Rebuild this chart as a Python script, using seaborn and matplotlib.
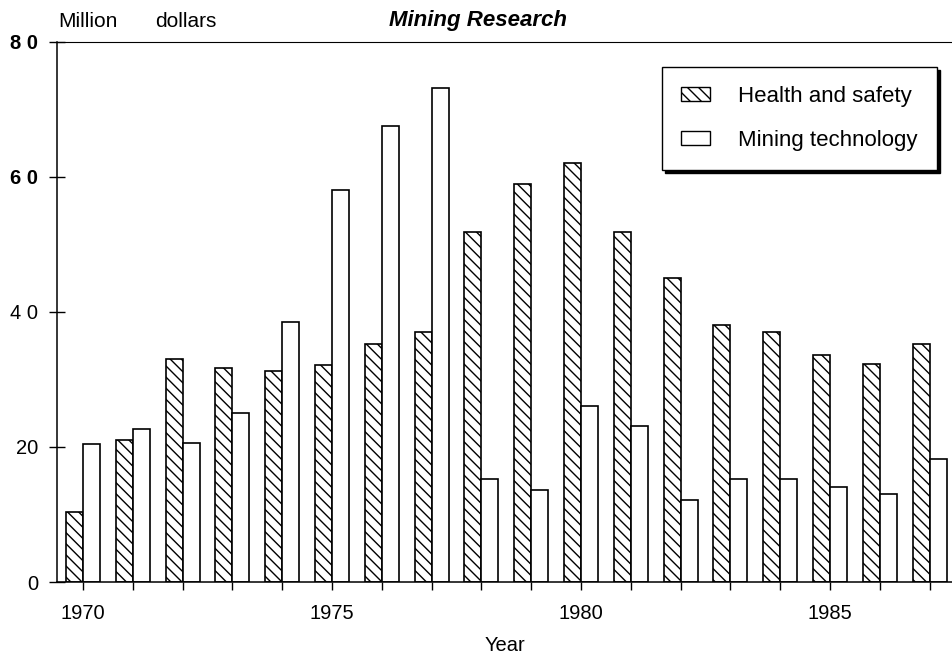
import matplotlib
matplotlib.use("Agg")
import matplotlib.pyplot as plt
from matplotlib.patches import Patch
import pandas as pd
import seaborn as sns

# Mining research funding, million dollars
years = [1970, 1971, 1972, 1973, 1974, 1975, 1976, 1977, 1978,
         1979, 1980, 1981, 1982, 1983, 1984, 1985, 1986, 1987]
health_safety = [10.4, 21.1, 33.1, 31.7, 31.2, 32.2, 35.3, 37.1, 51.9,
                 58.9, 62.0, 51.9, 45.0, 38.0, 37.1, 33.7, 32.3, 35.2]
mining_tech = [20.5, 22.6, 20.6, 25.1, 38.5, 58.0, 67.6, 73.2, 15.2,
               13.6, 26.0, 23.1, 12.1, 15.2, 15.2, 14.1, 13.1, 18.2]
series_names = ["Health and safety", "Mining technology"]

ytick_values = [0, 20, 40, 60, 80]
ytick_labels = ["0", "20", "4 0", "6 0", "8 0"]
bold_yticks = ["6 0", "8 0"]
labelled_years = [1970, 1975, 1980, 1985]

df = pd.DataFrame({
    "Year": years + years,
    "Value": health_safety + mining_tech,
    "Series": [series_names[0]] * len(years) + [series_names[1]] * len(years),
})

sns.set_style("ticks")
plt.rcParams["font.family"] = ["Liberation Sans", "DejaVu Sans"]
plt.rcParams["text.color"] = "black"
plt.rcParams["axes.labelcolor"] = "black"
plt.rcParams["hatch.linewidth"] = 1.0
plt.rcParams["hatch.color"] = "black"

HATCH = "\\\\\\"

fig = plt.figure(figsize=(9.52, 6.56), dpi=100)
ax = fig.add_axes([0.06, 0.1128, 0.94, 0.8232])

sns.barplot(
    data=df, x="Year", y="Value", hue="Series", hue_order=series_names,
    palette=["white", "white"], native_scale=True, width=0.68, gap=0,
    edgecolor="black", linewidth=1.2, errorbar=None, legend=False, ax=ax,
)
for bar in ax.containers[0]:
    bar.set_hatch(HATCH)

ax.set_xlim(1969.48, 1987.45)
ax.set_ylim(0, 80)

ax.set_xticks(years)
ax.set_xticklabels([str(y) if y in labelled_years else "" for y in years])
ax.set_yticks(ytick_values)
ax.set_yticklabels(ytick_labels)
for lab in ax.get_yticklabels():
    if lab.get_text() in bold_yticks:
        lab.set_fontweight("bold")

ax.tick_params(axis="x", direction="out", length=6, width=1, pad=10,
               labelsize=14.5, colors="black")
ax.tick_params(axis="y", direction="inout", length=11, width=1, pad=8,
               labelsize=14.5, colors="black")

for side in ["left", "bottom", "top"]:
    ax.spines[side].set_color("black")
    ax.spines[side].set_linewidth(1.1)
ax.spines["top"].set_linewidth(0.8)
ax.spines["right"].set_visible(False)

ax.set_xlabel("Year", fontsize=14.5, labelpad=9)
ax.set_ylabel("")

handles = [
    Patch(facecolor="white", edgecolor="black", hatch=HATCH, linewidth=1),
    Patch(facecolor="white", edgecolor="black", linewidth=1),
]
leg = ax.legend(
    handles, series_names, loc="upper right", bbox_to_anchor=(0.983, 0.954),
    frameon=True, fancybox=False, edgecolor="black", framealpha=1,
    shadow={"color": "black", "alpha": 1}, fontsize=16,
    handlelength=1.3, handleheight=0.55, labelspacing=1.05, borderpad=0.85,
    handletextpad=1.3, borderaxespad=0,
)
leg.get_frame().set_linewidth(1)

fig.text(58 / 952, 1 - 21.5 / 656, "Million", fontsize=15, va="center", ha="left")
fig.text(155 / 952, 1 - 21.5 / 656, "dollars", fontsize=15, va="center", ha="left")
fig.text(478 / 952, 1 - 20.5 / 656, "Mining Research", fontsize=16,
         fontweight="bold", fontstyle="italic", va="center", ha="center")

fig.savefig("out.png", dpi=100)
